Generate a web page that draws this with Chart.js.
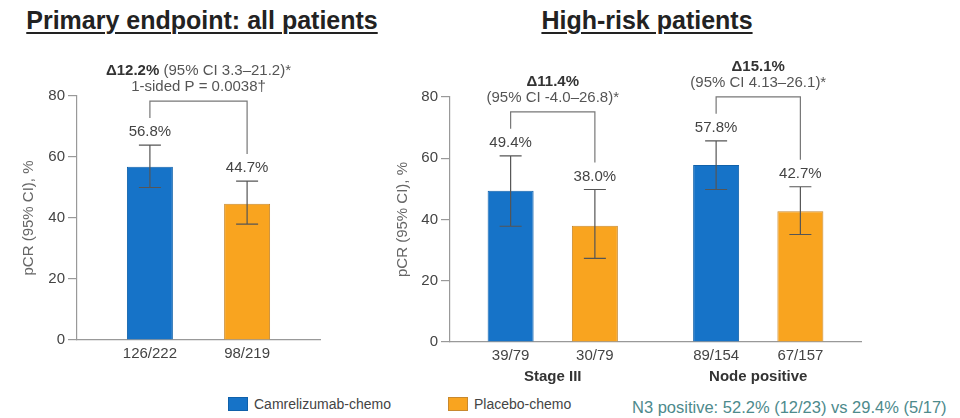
<!DOCTYPE html>
<html>
<head>
<meta charset="utf-8">
<script src="https://cdn.jsdelivr.net/npm/chart.js@4.4.1/dist/chart.umd.min.js"></script>
<style>
  body { margin: 0; width: 960px; height: 418px; background: #fff; position: relative; overflow: hidden;
         font-family: "Liberation Sans", Arial, sans-serif; }
  .title { position: absolute; top: 6px; line-height: 29px; font-size: 25px; font-weight: bold; color: #222;
           text-decoration: underline; text-underline-offset: 3px; text-decoration-thickness: 2px;
           white-space: nowrap; transform: translateX(-50%); }
  canvas { position: absolute; }
  .sw { position: absolute; top: 397px; width: 20px; height: 14px; box-sizing: border-box; }
  .lg { position: absolute; top: 396px; font-size: 14px; line-height: 17px; color: #444; white-space: nowrap; }
  .note { position: absolute; top: 397px; left: 632px; font-size: 16.5px; line-height: 20px; color: #4d8a8c; white-space: nowrap; }
</style>
</head>
<body>
<div class="title" style="left:202px">Primary endpoint: all patients</div>
<div class="title" style="left:647px">High-risk patients</div>

<div style="position:absolute;left:0;top:40px;width:380px;height:352px"><canvas id="allChart"></canvas></div>
<div style="position:absolute;left:380px;top:40px;width:580px;height:352px"><canvas id="hrChart"></canvas></div>

<span class="sw" style="left:228px;background:#1673c8;border:1px solid #1061aa"></span>
<span class="lg" style="left:254px">Camrelizumab-chemo</span>
<span class="sw" style="left:448px;background:#f9a41f;border:1px solid #c8892e"></span>
<span class="lg" style="left:474px">Placebo-chemo</span>
<span class="note">N3 positive: 52.2% (12/23) vs 29.4% (5/17)</span>

<script>
// all patients
const allGroups = [''];
const allCamrelizumab = [56.8];
const allCamCI = [[50.0, 63.9]];
const allPlacebo = [44.7];
const allPlaceboCI = [[38.0, 52.1]];
const allCamCounts = ['126/222'];
const allPlaceboCounts = ['98/219'];
const allDelta = ['Δ12.2%'];
const allDeltaCI = ['(95% CI 3.3–21.2)*'];
const allPValue = ['1-sided P = 0.0038†'];

// high-risk patients
const hrGroups = ['Stage III', 'Node positive'];
const hrCamrelizumab = [49.4, 57.8];
const hrCamCI = [[37.8, 60.8], [49.8, 65.7]];
const hrPlacebo = [38.0, 42.7];
const hrPlaceboCI = [[27.3, 49.8], [35.1, 50.7]];
const hrCamCounts = ['39/79', '89/154'];
const hrPlaceboCounts = ['30/79', '67/157'];
const hrDelta = ['Δ11.4%', 'Δ15.1%'];
const hrDeltaCI = ['(95% CI -4.0–26.8)*', '(95% CI 4.13–26.1)*'];

const yMax = 80;
const yStep = 20;

const BLUE = '#1673c8', BLUE_B = '#1061aa';
const ORANGE = '#f9a41f', ORANGE_B = '#c8892e';
const FONT = '"Liberation Sans", Arial, sans-serif';

// error bars, value labels, n/N labels and difference brackets
const annot = {
  id: 'annot',
  afterDatasetsDraw(chart, args, o) {
    const { ctx, chartArea } = chart;
    const y = chart.scales.y;
    const metas = [chart.getDatasetMeta(0), chart.getDatasetMeta(1)];
    const caps = [[], []];
    ctx.save();
    metas.forEach((m, d) => {
      m.data.forEach((bar, i) => {
        const [lo, hi] = o.ci[d][i];
        const yl = y.getPixelForValue(lo), yh = y.getPixelForValue(hi);
        ctx.strokeStyle = '#555';
        ctx.lineWidth = 1.2;
        ctx.beginPath();
        ctx.moveTo(bar.x, yl); ctx.lineTo(bar.x, yh);
        ctx.moveTo(bar.x - 11, yl); ctx.lineTo(bar.x + 11, yl);
        ctx.moveTo(bar.x - 11, yh); ctx.lineTo(bar.x + 11, yh);
        ctx.stroke();
        caps[d][i] = yh;

        ctx.fillStyle = '#444';
        ctx.textAlign = 'center';
        ctx.textBaseline = 'middle';
        ctx.font = '15px ' + FONT;
        ctx.fillText(chart.data.datasets[d].data[i].toFixed(1) + '%', bar.x, yh - 13);
        ctx.fillText(o.counts[d][i], bar.x, chartArea.bottom + 14);
      });
    });

    metas[0].data.forEach((bar, i) => {
      const x0 = bar.x, x1 = metas[1].data[i].x;
      const top = Math.min(caps[0][i], caps[1][i]) - 44;
      ctx.strokeStyle = '#777';
      ctx.lineWidth = 1.2;
      ctx.beginPath();
      ctx.moveTo(x0, caps[0][i] - 27);
      ctx.lineTo(x0, top);
      ctx.lineTo(x1, top);
      ctx.lineTo(x1, caps[1][i] - 27);
      ctx.stroke();

      const cx = (x0 + x1) / 2;
      ctx.textBaseline = 'middle';
      const bold = 'bold 15px ' + FONT, reg = '15px ' + FONT;
      if (o.inline) {
        ctx.font = bold;
        const w1 = ctx.measureText(o.delta[i]).width;
        ctx.font = reg;
        const rest = ' ' + o.deltaCI[i];
        const w2 = ctx.measureText(rest).width;
        const sx = cx - (w1 + w2) / 2;
        ctx.textAlign = 'left';
        ctx.font = bold; ctx.fillStyle = '#333';
        ctx.fillText(o.delta[i], sx, top - 30);
        ctx.font = reg; ctx.fillStyle = '#555';
        ctx.fillText(rest, sx + w1, top - 30);
        ctx.textAlign = 'center';
        ctx.fillText(o.pValue[i], cx, top - 14);
      } else {
        ctx.textAlign = 'center';
        ctx.font = bold; ctx.fillStyle = '#333';
        ctx.fillText(o.delta[i], cx, top - 30);
        ctx.font = reg; ctx.fillStyle = '#555';
        ctx.fillText(o.deltaCI[i], cx, top - 14);
      }
    });
    ctx.restore();
  }
};

function makeChart(id, cfg) {
  return new Chart(document.getElementById(id), {
    type: 'bar',
    data: {
      labels: cfg.labels,
      datasets: [
        { label: 'Camrelizumab-chemo', data: cfg.cam, backgroundColor: BLUE, borderColor: BLUE_B, borderWidth: 1,
          categoryPercentage: cfg.catPct, barPercentage: cfg.barPct },
        { label: 'Placebo-chemo', data: cfg.pla, backgroundColor: ORANGE, borderColor: ORANGE_B, borderWidth: 1,
          categoryPercentage: cfg.catPct, barPercentage: cfg.barPct }
      ]
    },
    options: {
      responsive: true,
      maintainAspectRatio: false,
      animation: false,
      layout: { padding: cfg.padding },
      plugins: {
        legend: { display: false },
        tooltip: { enabled: false },
        annot: cfg.annot
      },
      scales: {
        x: {
          grid: { display: false, drawTicks: false },
          border: { color: '#999', width: 1.2 },
          ticks: { display: cfg.showGroups, color: '#333', padding: 26, font: { family: FONT, size: 15, weight: 'bold' } },
          afterFit: s => { s.height = cfg.xHeight; }
        },
        y: {
          min: 0, max: yMax,
          ticks: { stepSize: yStep, color: '#444', padding: 3, font: { family: FONT, size: 15 } },
          grid: { drawOnChartArea: false, drawTicks: true, tickLength: 9, color: '#999', lineWidth: 1.2 },
          border: { color: '#999', width: 1.2 },
          title: { display: true, text: 'pCR (95% CI), %', color: '#666', padding: { top: cfg.titlePad, bottom: 0 },
                   font: { family: FONT, size: 15 } },
          afterFit: s => { s.width = cfg.yWidth; }
        }
      }
    },
    plugins: [annot]
  });
}

makeChart('allChart', {
  labels: allGroups, cam: allCamrelizumab, pla: allPlacebo,
  catPct: 0.80, barPct: 0.473,
  padding: { left: 0, right: 60, top: 56, bottom: 0 },
  xHeight: 52, yWidth: 77, titlePad: 20, showGroups: false,
  annot: { ci: [allCamCI, allPlaceboCI], counts: [allCamCounts, allPlaceboCounts],
           delta: allDelta, deltaCI: allDeltaCI, pValue: allPValue, inline: true }
});

makeChart('hrChart', {
  labels: hrGroups, cam: hrCamrelizumab, pla: hrPlacebo,
  catPct: 0.82, barPct: 0.546,
  padding: { left: 0, right: 99, top: 57, bottom: 0 },
  xHeight: 50, yWidth: 70, titlePad: 14, showGroups: true,
  annot: { ci: [hrCamCI, hrPlaceboCI], counts: [hrCamCounts, hrPlaceboCounts],
           delta: hrDelta, deltaCI: hrDeltaCI, inline: false }
});
</script>
</body>
</html>
